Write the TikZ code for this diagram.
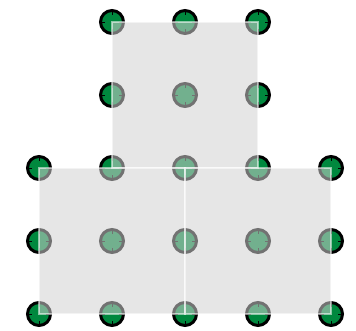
\documentclass[tikz,border=0pt]{standalone}
\usetikzlibrary{positioning}
\definecolor{dotgreen}{RGB}{0,136,62}

\begin{document}
\begin{tikzpicture}[x=1pt, y=-1pt,
  dot/.style={circle, draw=black, fill=dotgreen, line width=3pt, minimum size=23pt, inner sep=0pt,
    path picture={
      \draw[line width=0.8pt] (path picture bounding box.north) -- ++(0,-4.5pt);
      \draw[line width=0.8pt] (path picture bounding box.south) -- ++(0,4.5pt);
      \draw[line width=0.8pt] (path picture bounding box.east) -- ++(-4.5pt,0);
      \draw[line width=0.8pt] (path picture bounding box.west) -- ++(4.5pt,0);}},
  sq/.style={fill=black!18, draw=white, line width=1.6pt, opacity=0.55}]
  \useasboundingbox (0,0) rectangle (356,331);
  % lattice points
  \foreach \c in {1,2,3}
    \foreach \r in {0,1}
      \node[dot] (d\c\r) at ({39+73*\c},{22+73*\r}) {};
  \foreach \c in {0,...,4}
    \foreach \r in {2,3,4}
      \node[dot] (d\c\r) at ({39+73*\c},{22+73*\r}) {};
  % squares
  \path[sq] (d10.center) rectangle (d32.center);
  \path[sq] (d02.center) rectangle (d24.center);
  \path[sq] (d22.center) rectangle (d44.center);
\end{tikzpicture}
\end{document}
